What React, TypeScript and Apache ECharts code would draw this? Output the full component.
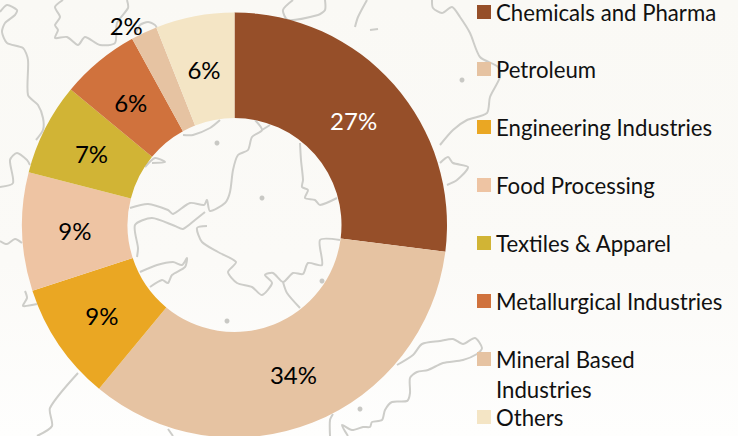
import React, { useEffect, useRef } from "react";
import * as echarts from "echarts";

const categories = ["Chemicals and Pharma", "Petroleum", "Engineering Industries", "Food Processing", "Textiles & Apparel", "Metallurgical Industries", "Mineral Based Industries", "Others"];
const legendTexts = ["Chemicals and Pharma", "Petroleum", "Engineering Industries", "Food Processing", "Textiles & Apparel", "Metallurgical Industries", "{l|Mineral Based}\n{l|Industries}", "Others"];
const values = [27, 34, 9, 9, 7, 6, 2, 6];
const colors = ["#964F29", "#E6C3A2", "#EAA723", "#EEC4A3", "#D1B435", "#D0723D", "#E6C3A2", "#F4E5C5"];
const labelOffsets = [[-3, 3], [-1, -2], [2, -1], [3, 0], [2, 2], [0, 3], [-39, -52], [0, 4]];
const FONT = "Lato";

const mapLines: number[][][] = [
  [[130,208],[148,204],[168,210],[173,214],[190,203],[204,205],[207,200],[210,211],[225,203],[230,192],[233,170],[238,155],[248,150],[252,137],[262,130],[255,120]],
  [[262,130],[270,125]],
  [[137,257],[138,248],[135,225],[152,218],[175,226],[183,229],[195,220],[205,212]],
  [[207,226],[197,228],[202,242],[218,252],[236,262],[228,272],[237,283],[252,287],[262,295],[272,283],[265,275],[273,273],[283,282],[293,273],[303,274],[308,263],[322,265],[320,240],[340,240]],
  [[283,282],[287,293],[300,308]],
  [[300,143],[301,160],[303,180],[302,187],[308,190],[305,198],[315,200],[320,205],[337,198]],
  [[145,167],[155,158],[165,162],[152,163]],
  [[140,272],[157,265],[173,262],[182,265],[187,258],[185,267],[172,275],[168,283],[162,280],[150,287]],
  [[183,135],[193,135],[210,128],[220,120]],
  [[293,0],[283,10],[288,20],[318,15],[325,10],[325,0]],
  [[367,0],[358,17],[355,27]],
  [[370,30],[378,29]],
  [[432,0],[433,8],[442,13],[452,7],[460,17],[470,33],[480,57],[498,67],[500,77],[490,97],[487,113],[467,120],[453,130],[440,145]],
  [[440,163],[448,157],[453,163],[468,167],[457,180],[447,185]],
  [[0,12],[7,5],[17,10],[15,15],[5,23],[2,32],[7,43],[23,48],[28,60],[28,95],[38,105],[43,118],[43,130],[36,140]],
  [[63,0],[55,7],[60,17],[55,25],[58,30],[55,38],[67,37],[78,45],[85,37],[100,45],[115,43],[117,23],[128,8],[127,0]],
  [[135,35],[140,25],[148,22],[155,25],[157,28]],
  [[0,187],[13,183],[10,160],[17,153],[27,160],[30,165]],
  [[0,241],[7,244],[15,239],[22,243]],
  [[25,291],[27,298],[23,306],[37,304]],
  [[78,373],[50,408],[52,426],[37,436]],
  [[168,429],[173,436]],
  [[330,436],[330,420],[333,414]],
  [[397,365],[413,355],[422,344],[440,341],[453,339],[463,344],[475,338],[482,348],[477,354],[463,360],[443,363],[428,370],[417,372],[410,378],[410,393],[407,401],[392,402],[385,410],[382,420],[372,422],[370,427],[363,427],[352,430],[342,425],[348,436]],
];
const mapDots: number[][] = [[217,143],[262,198],[322,281],[227,321],[462,80],[360,409]];

export default function App() {
  const ref = useRef<HTMLDivElement>(null);
  useEffect(() => {
    const chart = echarts.init(ref.current!, undefined, { renderer: "svg" });
    const lineGraphics = mapLines.map((points) => ({
      type: "polyline", silent: true, z: -1,
      shape: { points, smooth: 0.25 },
      style: { stroke: "#CDCDC9", lineWidth: 2, fill: null },
    }));
    const dotGraphics = mapDots.map(([cx, cy]) => ({
      type: "circle", silent: true, z: -1,
      shape: { cx, cy, r: 2.5 },
      style: { fill: "#C8C8C4" },
    }));
    chart.setOption({
      animation: false,
      backgroundColor: {
        type: "linear", x: 0, y: 0, x2: 0, y2: 1,
        colorStops: [{ offset: 0, color: "#FAF9F5" }, { offset: 0.6, color: "#FBFAF7" }, { offset: 1, color: "#FEFEFD" }],
      },
      graphic: { elements: [...lineGraphics, ...dotGraphics] },
      legend: categories.map((name, i) => ({
        data: [{ name, icon: "rect" }],
        left: 477,
        top: i === 6 ? 348 : i === 0 ? 1 : 58 * i,
        itemWidth: 14,
        itemHeight: 14,
        itemGap: 0,
        padding: 0,
        selectedMode: false,
        formatter: () => legendTexts[i],
        textStyle: {
          fontFamily: FONT, fontSize: 22.2, color: "#111111",
          ...(i === 6
            ? {
                padding: [30, 0, 0, 0],
                rich: { l: { fontFamily: FONT, fontSize: 22.2, color: "#111111", lineHeight: 30 } },
              }
            : {}),
        },
      })),
      series: [{
        type: "pie",
        center: [234.5, 225],
        radius: [107, 212.5],
        startAngle: 90,
        clockwise: true,
        avoidLabelOverlap: false,
        data: categories.map((name, i) => ({
          name,
          value: values[i],
          itemStyle: { color: colors[i] },
          label: { offset: labelOffsets[i], ...(i === 0 ? { color: "#FFFFFF" } : {}) },
        })),
        labelLine: { show: false },
        label: {
          show: true,
          position: "inside",
          formatter: "{d}%",
          fontFamily: FONT,
          fontSize: 24,
          color: "#000000",
        },
        emphasis: { disabled: true },
      }],
    });
    return () => chart.dispose();
  }, []);
  return <div ref={ref} style={{ position: "absolute", left: 0, top: 0, width: 738, height: 436 }} />;
}
